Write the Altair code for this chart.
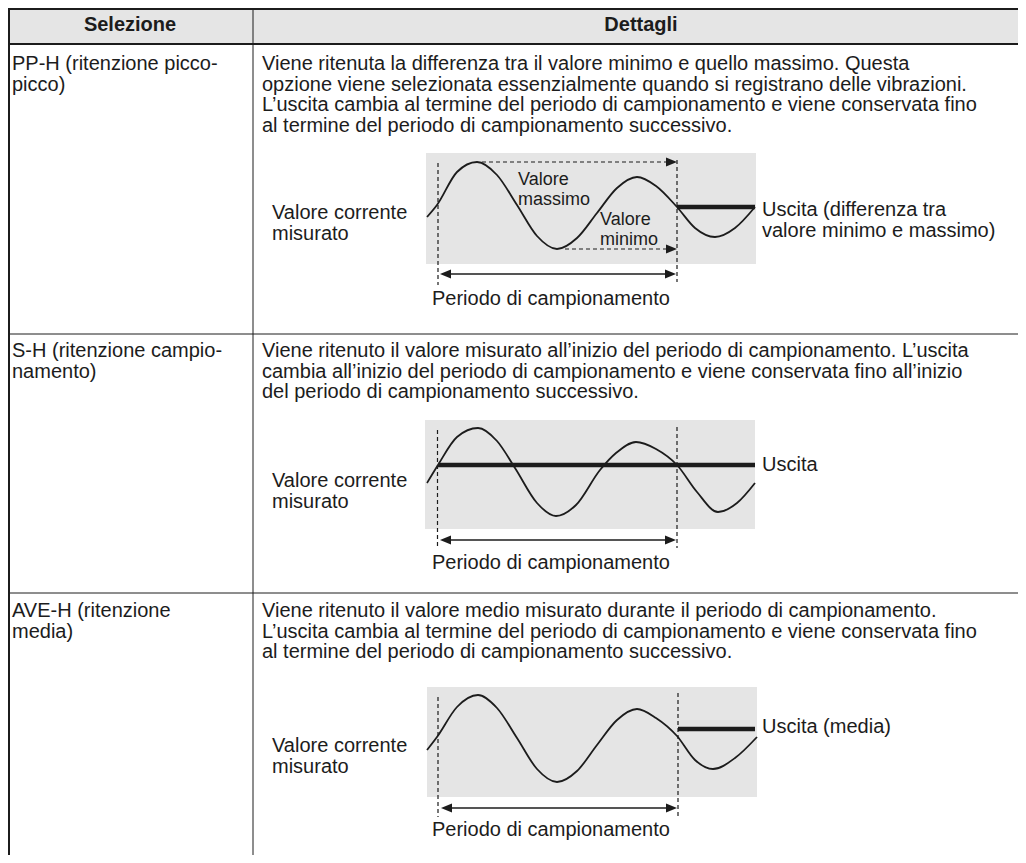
import altair as alt
import pandas as pd

FONT = "Liberation Sans"
INK = "#1c1c1c"
GRAY = "#e5e5e5"

# ---------------- text content ----------------
header_labels = ["Selezione", "Dettagli"]
header_x = [130, 641]
header_y = [31, 31]

sel_lines = [
    ["PP-H (ritenzione picco-", "picco)"],
    ["S-H (ritenzione campio-", "namento)"],
    ["AVE-H (ritenzione", "media)"],
]
det_lines = [
    ["Viene ritenuta la differenza tra il valore minimo e quello massimo. Questa",
     "opzione viene selezionata essenzialmente quando si registrano delle vibrazioni.",
     "L\u2019uscita cambia al termine del periodo di campionamento e viene conservata fino",
     "al termine del periodo di campionamento successivo."],
    ["Viene ritenuto il valore misurato all\u2019inizio del periodo di campionamento. L\u2019uscita",
     "cambia all\u2019inizio del periodo di campionamento e viene conservata fino all\u2019inizio",
     "del periodo di campionamento successivo."],
    ["Viene ritenuto il valore medio misurato durante il periodo di campionamento.",
     "L\u2019uscita cambia al termine del periodo di campionamento e viene conservata fino",
     "al termine del periodo di campionamento successivo."],
]
row_first_baseline = [70, 357, 617]
line_step = 20.5
sel_x = 12
det_x = 262
BODY = 20
SMALL = 18

# diagram labels (text, x, baseline y, font size)
diag_labels = [
    ("Valore corrente", 272, 219, BODY), ("misurato", 272, 239.5, BODY),
    ("Valore", 518, 185, SMALL), ("massimo", 518, 204.5, SMALL),
    ("Valore", 600, 225, SMALL), ("minimo", 600, 244.5, SMALL),
    ("Uscita (differenza tra", 762, 216, BODY), ("valore minimo e massimo)", 762, 236.5, BODY),
    ("Periodo di campionamento", 432, 305, BODY),
    ("Valore corrente", 272, 487, BODY), ("misurato", 272, 507.5, BODY),
    ("Uscita", 762, 471, BODY),
    ("Periodo di campionamento", 432, 569, BODY),
    ("Valore corrente", 272, 752, BODY), ("misurato", 272, 772.5, BODY),
    ("Uscita (media)", 762, 733, BODY),
    ("Periodo di campionamento", 432, 836, BODY),
]

# ---------------- table frame ----------------
header_bg = {"x": [8], "x2": [1018], "y": [8], "y2": [44]}
diagram_box_x = [426, 425, 427]
diagram_box_x2 = [756, 755, 757]
diagram_box_y = [153, 420, 687]
diagram_box_y2 = [264, 529, 797]

thick_rules = [(8, 9, 1018, 9), (8, 44, 1018, 44), (9, 8, 9, 855)]
thin_rules = [(253, 8, 253, 855), (8, 334, 1018, 334), (8, 593, 1018, 593)]

# ---------------- diagrams ----------------
# measured-value curves (key points read from the picture)
wave_pp_x = [427, 437, 457, 477, 497, 517, 537, 557, 577, 597, 617, 637, 656, 677, 695, 715, 735, 755]
wave_pp_y = [217, 205, 172, 162, 175, 205, 236, 249, 238, 213, 188, 177, 186, 207, 228, 237, 228, 207]

wave_sh_x = [427, 438, 457, 478, 497, 515, 537, 556, 576, 600, 616, 636, 656, 677, 697, 718, 737, 755]
wave_sh_y = [483, 465, 437, 428, 441, 468, 503, 516, 505, 470, 453, 442, 449, 465, 492, 512, 503, 483]

wave_ave_x = [427, 437, 457, 478, 497, 517, 537, 557, 577, 597, 617, 637, 656, 677, 695, 713, 735, 757]
wave_ave_y = [750, 737, 707, 695, 708, 738, 769, 782, 771, 745, 720, 709, 718, 736, 760, 769, 758, 737]

# held outputs (thick lines)
output_segs = [(677, 207, 755, 207), (438, 465, 755, 465), (678, 729, 755, 729)]
# dashed guides
dashed_segs = [
    (438, 163, 438, 285), (677, 160, 677, 282),
    (482, 162, 667, 162), (565, 249, 667, 249),
    (437.5, 430, 437.5, 548), (677, 427, 677, 548),
    (438, 697, 438, 817), (678, 693, 678, 817),
]
# sampling-period arrows
period_segs = [(444, 274, 672, 274), (444, 540, 672, 540), (445, 808, 673, 808)]
arrow_right = {"x": [677, 677, 676, 676, 677], "y": [162, 249, 274, 540, 808]}
arrow_left = {"x": [440, 440, 441], "y": [274, 540, 808]}

# ---------------- build ----------------
X = alt.Scale(domain=[8, 1018], nice=False, zero=False)
Y = alt.Scale(domain=[8, 855], nice=False, zero=False, reverse=True)


def segs(rows):
    return pd.DataFrame(rows, columns=["x", "y", "x2", "y2"])


def xy():
    return dict(x=alt.X("x:Q", scale=X, axis=None), y=alt.Y("y:Q", scale=Y, axis=None))


def seg_enc():
    return dict(**xy(), x2="x2:Q", y2="y2:Q")


layers = []

layers.append(alt.Chart(pd.DataFrame(header_bg)).mark_rect(color=GRAY).encode(**seg_enc()))
layers.append(
    alt.Chart(pd.DataFrame({"x": diagram_box_x, "x2": diagram_box_x2,
                            "y": diagram_box_y, "y2": diagram_box_y2}))
    .mark_rect(color=GRAY).encode(**seg_enc())
)
layers.append(alt.Chart(segs(thick_rules)).mark_rule(color=INK, strokeWidth=2).encode(**seg_enc()))
layers.append(alt.Chart(segs(thin_rules)).mark_rule(color=INK, strokeWidth=1).encode(**seg_enc()))

wave_rows = []
for name, xs, ys in [("pp", wave_pp_x, wave_pp_y), ("sh", wave_sh_x, wave_sh_y), ("ave", wave_ave_x, wave_ave_y)]:
    for i, (a, b) in enumerate(zip(xs, ys)):
        wave_rows.append({"d": name, "i": i, "x": a, "y": b})
layers.append(
    alt.Chart(pd.DataFrame(wave_rows))
    .mark_line(interpolate="monotone", color=INK, strokeWidth=1.8)
    .encode(**xy(), detail="d:N", order="i:Q")
)

layers.append(
    alt.Chart(segs(dashed_segs)).mark_rule(color=INK, strokeWidth=1.2, strokeDash=[4, 3]).encode(**seg_enc())
)
layers.append(alt.Chart(segs(period_segs)).mark_rule(color=INK, strokeWidth=1.4).encode(**seg_enc()))
layers.append(alt.Chart(segs(output_segs)).mark_rule(color=INK, strokeWidth=4.5).encode(**seg_enc()))
layers.append(
    alt.Chart(pd.DataFrame(arrow_right))
    .mark_point(shape="M0,0L-1,-0.42L-1,0.42Z", size=484, filled=True, color=INK, opacity=1, strokeWidth=0)
    .encode(**xy())
)
layers.append(
    alt.Chart(pd.DataFrame(arrow_left))
    .mark_point(shape="M0,0L1,-0.42L1,0.42Z", size=484, filled=True, color=INK, opacity=1, strokeWidth=0)
    .encode(**xy())
)

# header texts
layers.append(
    alt.Chart(pd.DataFrame({"t": header_labels, "x": header_x, "y": header_y}))
    .mark_text(align="center", baseline="alphabetic", font=FONT, fontSize=BODY, fontWeight="bold", color=INK)
    .encode(**xy(), text="t:N")
)

# body texts
body_rows = []
for r, (sl, dl) in enumerate(zip(sel_lines, det_lines)):
    for k, t in enumerate(sl):
        body_rows.append({"t": t, "x": sel_x, "y": row_first_baseline[r] + k * line_step, "s": BODY})
    for k, t in enumerate(dl):
        body_rows.append({"t": t, "x": det_x, "y": row_first_baseline[r] + k * line_step, "s": BODY})
for t, a, b, s in diag_labels:
    body_rows.append({"t": t, "x": a, "y": b, "s": s})

layers.append(
    alt.Chart(pd.DataFrame(body_rows))
    .mark_text(align="left", baseline="alphabetic", font=FONT, color=INK)
    .encode(**xy(), text="t:N", size=alt.Size("s:Q", scale=None, legend=None))
)

chart = (
    alt.layer(*layers)
    .properties(width=1010, height=847, padding=0, autosize=alt.AutoSizeParams(type="none"))
    .configure_view(stroke=None)
)

chart.save("out.html", embed_options={"renderer": "svg", "actions": False})
